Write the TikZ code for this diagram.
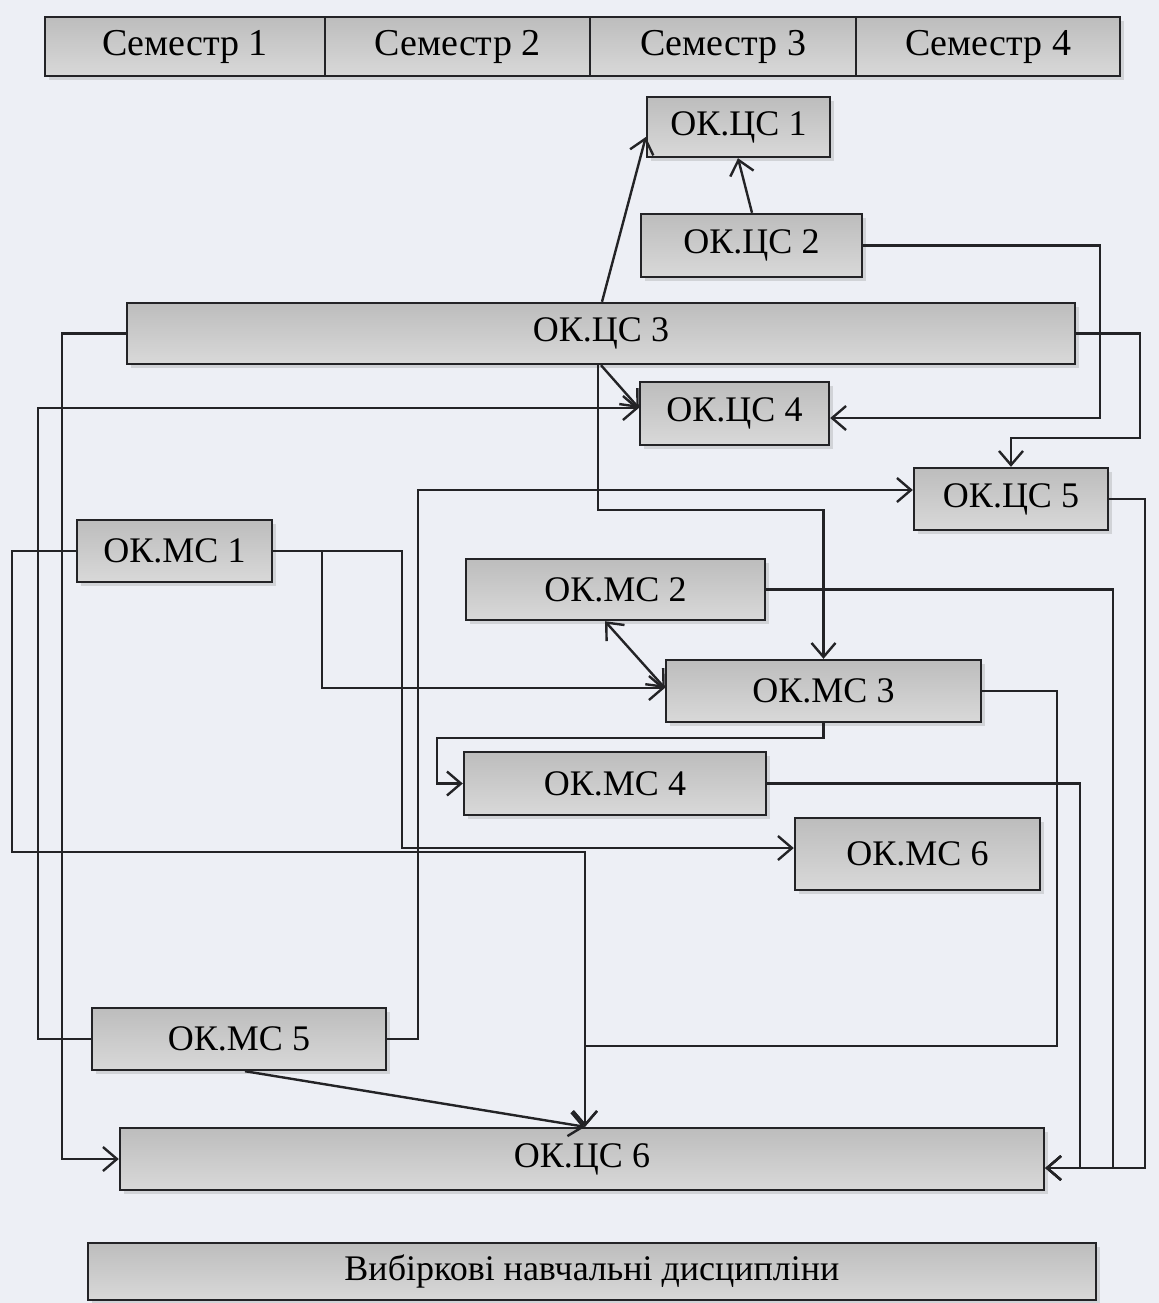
\documentclass[tikz,border=0pt]{standalone}
\usepackage{fontspec}
\setmainfont{Liberation Serif}
\usetikzlibrary{arrows.meta,shadows}
\definecolor{bg}{RGB}{237,239,245}
\definecolor{edge}{RGB}{35,35,38}
\tikzset{
  box/.style={draw=edge, line width=1.2pt, top color=gray!52, bottom color=gray!30,
    drop shadow={shadow xshift=2pt, shadow yshift=-2pt, opacity=.25, fill=gray},
    inner sep=0pt, font=\fontsize{18}{20}\selectfont},
  sem/.style={box, font=\fontsize{19}{21}\selectfont},
  conn/.style={draw=edge, line width=1.2pt},
  tip/.style={},
  arr/.style={conn, -{Straight Barb[length=7pt,width=12pt,line width=1.2pt]}},
  darr/.style={conn, {Straight Barb[length=7pt,width=12pt,line width=1.2pt]}-{Straight Barb[length=7pt,width=12pt,line width=1.2pt]}}
}
\begin{document}
\begin{tikzpicture}[x=0.5pt,y=-0.5pt]
\fill[bg] (0,0) rectangle (1159,1303);
\useasboundingbox (0,0) rectangle (1159,1303);
% semesters
\node[sem, minimum width=140pt, minimum height=29.5pt] (s1) at (185,46.5) {Семестр 1};
\node[sem, minimum width=132.5pt, minimum height=29.5pt] (s2) at (457.5,46.5) {Семестр 2};
\node[sem, minimum width=133pt, minimum height=29.5pt] (s3) at (723,46.5) {Семестр 3};
\node[sem, minimum width=132pt, minimum height=29.5pt] (s4) at (988,46.5) {Семестр 4};
% boxes
\node[box, minimum width=91.5pt, minimum height=30pt] (c1) at (738.5,127) {ОК.ЦС 1};
\node[box, minimum width=110.5pt, minimum height=31.5pt] (c2) at (751.5,245.5) {ОК.ЦС 2};
\node[box, minimum width=474pt, minimum height=30.5pt] (c3) at (601,333.5) {ОК.ЦС 3};
\node[box, minimum width=94.5pt, minimum height=31.5pt] (c4) at (734.5,413.5) {ОК.ЦС 4};
\node[box, minimum width=97pt, minimum height=31pt] (c5) at (1011,499) {ОК.ЦС 5};
\node[box, minimum width=97.5pt, minimum height=31pt] (m1) at (174.5,551) {ОК.МС 1};
\node[box, minimum width=149.5pt, minimum height=30.5pt] (m2) at (615.5,589.5) {ОК.МС 2};
\node[box, minimum width=157.5pt, minimum height=31pt] (m3) at (823.5,691) {ОК.МС 3};
\node[box, minimum width=151pt, minimum height=31.5pt] (m4) at (615,783.5) {ОК.МС 4};
\node[box, minimum width=122.5pt, minimum height=36pt] (m6) at (917.5,854) {ОК.МС 6};
\node[box, minimum width=147pt, minimum height=31pt] (m5) at (239,1039) {ОК.МС 5};
\node[box, minimum width=462pt, minimum height=31pt] (c6) at (582,1159) {ОК.ЦС 6};
\node[box, minimum width=504pt, minimum height=28.5pt] (v) at (592,1271.5) {Вибіркові навчальні дисципліни};
% connectors
\draw[arr] (c3.north -| 602,0) -- (c1.west |- 0,137);
\draw[arr] (c2.north -| 752,0) -- (c1.south -| 738,0);
\draw[arr] (c2.east) -| (1100,418) -- (c4.east |- 0,418);
\draw[arr] (c3.east) -| (1140,438) -| (c5.north);
\draw[arr] (c3.south -| 601,0) -- (c4.west |- 0,408);
\draw[arr] (c3.south -| 598,0) -- (598,510) -| (m3.north);
\draw[arr] (m5.west) -| (38,408) -- (c4.west |- 0,408);
\draw[arr] (c3.west) -| (62,1159) -- (c6.west);
\draw[arr] (m1.west) -| (12,852) -| (c6.north -| 585,0);
\draw[arr] (m1.east) -| (322,688) -- (m3.west |- 0,688);
\draw[arr] (m1.east) -| (402,848) -- (m6.west |- 0,848);
\draw[arr] (m5.east) -| (418,490) -- (c5.west |- 0,490);
\draw[arr] (m3.south) |- (437,738) |- (m4.west);
\draw[darr] (m2.south -| 605,0) -- (m3.west |- 0,688);
\draw[arr] (m3.east) -| (1057,1046) -| (c6.north -| 585,0);
\draw[arr] (m4.east) -| (1080,1168) -- (c6.east |- 0,1168);
\draw[arr] (m2.east) -| (1113,1168) -- (c6.east |- 0,1168);
\draw[arr] (c5.east) -| (1145,1168) -- (c6.east |- 0,1168);
\draw[arr] (m5.south -| 245,0) -- (c6.north -| 585,0);
\end{tikzpicture}
\end{document}
